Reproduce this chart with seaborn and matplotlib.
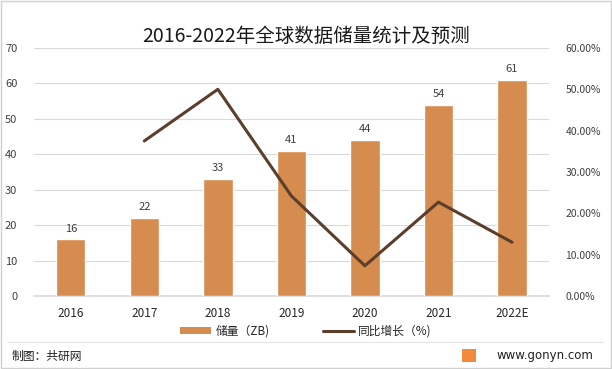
import matplotlib
matplotlib.use("Agg")
import matplotlib.pyplot as plt
import seaborn as sns
import pandas as pd
from matplotlib.patches import Rectangle, Patch
from matplotlib.lines import Line2D
from matplotlib.ticker import FuncFormatter, MultipleLocator

years = ["2016", "2017", "2018", "2019", "2020", "2021", "2022E"]
storage = [16, 22, 33, 41, 44, 54, 61]
growth = [None, 37.5, 50.0, 24.2, 7.3, 22.7, 13.0]

sns.set_theme(style="white")
plt.rcParams['font.family'] = ['Noto Sans CJK SC', 'DejaVu Sans']

bar_color = "#D58C4E"
line_color = "#5B3E2B"
text_color = "#404040"

df = pd.DataFrame({"year": years, "storage": storage, "growth": growth})

fig = plt.figure(figsize=(6.12, 3.69), dpi=100)
ax = fig.add_axes([0.0556, 0.198, 0.841, 0.672])

sns.barplot(data=df, x="year", y="storage", color=bar_color, width=0.4,
            saturation=1, ax=ax, zorder=3)
ax.set_ylim(0, 70)
ax.yaxis.set_major_locator(MultipleLocator(10))
ax.set_xlim(-0.5, 6.5)
ax.grid(axis="y", color="#D9D9D9", linewidth=0.8, zorder=0)
ax.set_axisbelow(True)
for s in ax.spines.values():
    s.set_visible(False)
ax.spines["bottom"].set_visible(True)
ax.spines["bottom"].set_color("#D9D9D9")
ax.set_xlabel("")
ax.set_ylabel("")
ax.tick_params(axis="y", length=0, labelsize=8, labelcolor=text_color, pad=12)
ax.tick_params(axis="x", length=0, labelsize=8.5, labelcolor="#262626", pad=8)

for i, v in enumerate(storage):
    ax.text(i, v + 1.6, str(v), ha="center", va="bottom", fontsize=8, color=text_color)

ax2 = ax.twinx()
gx = [i for i, g in enumerate(growth) if g is not None]
gy = [g for g in growth if g is not None]
sns.lineplot(x=gx, y=gy, color=line_color, linewidth=2.2, ax=ax2, zorder=4)
ax2.set_ylim(0, 60)
ax2.yaxis.set_major_locator(MultipleLocator(10))
ax2.yaxis.set_major_formatter(FuncFormatter(lambda v, p: f"{v:.2f}%"))
ax2.set_xlim(-0.5, 6.5)
for s in ax2.spines.values():
    s.set_visible(False)
ax2.tick_params(axis="y", length=0, labelsize=7.5, labelcolor=text_color, pad=12)
ax2.grid(False)
ax2.set_ylabel("")

fig.text(0.5, 0.90, "2016-2022年全球数据储量统计及预测", ha="center", va="center",
         fontsize=14, color="#1a1a1a")

handles = [Patch(facecolor=bar_color, edgecolor="none"),
           Line2D([0], [0], color=line_color, linewidth=2.2)]
fig.legend(handles, ["储量（ZB)", "同比增长（%)"], loc="center",
           bbox_to_anchor=(0.5, 0.103), ncol=2, frameon=False, fontsize=8.5,
           handlelength=2.6, handleheight=0.6, handletextpad=0.4,
           columnspacing=4.5, labelcolor="#262626")

# frame and footer
fig.add_artist(Rectangle((0.002, 0.004), 0.996, 0.992, transform=fig.transFigure,
                         fill=False, edgecolor="#D0D0D0", linewidth=1))
fig.add_artist(Line2D([0.012, 0.985], [0.073, 0.073], transform=fig.transFigure,
                      color="#E6E6E6", linewidth=0.8))
fig.text(0.018, 0.033, "制图：共研网", ha="left", va="center", fontsize=8.5, color="#222222")
fig.add_artist(Rectangle((0.755, 0.018), 0.022, 0.036, transform=fig.transFigure,
                         facecolor="#F08A3C", edgecolor="none"))
fig.text(0.97, 0.036, "www.gonyn.com", ha="right", va="center", fontsize=8.5,
         color="#222222", family=["DejaVu Sans"])

fig.savefig("out.png", dpi=100)
